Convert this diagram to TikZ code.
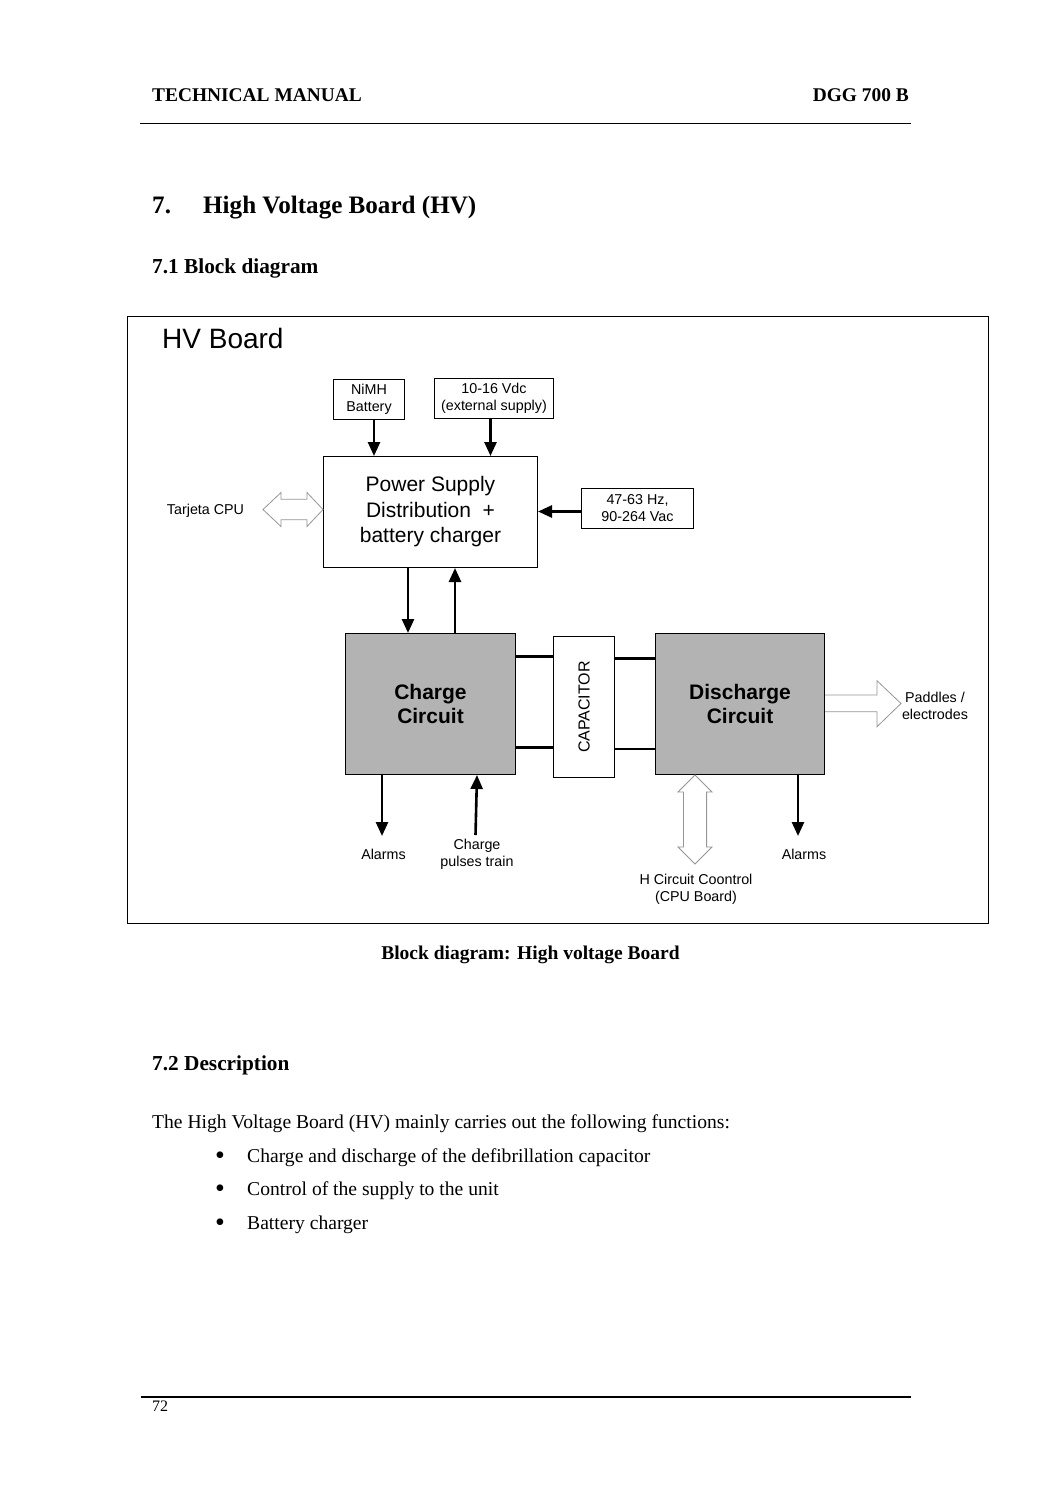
\documentclass[tikz,border=0pt]{standalone}
\usepackage{fontspec}
\setmainfont{Liberation Serif}
\setsansfont{Liberation Sans}
\usetikzlibrary{arrows.meta,positioning,calc}
\definecolor{boxgray}{RGB}{179,179,179}
\definecolor{arrowgray}{RGB}{150,150,150}
\tikzset{
  lbl/.style={font=\sffamily\fontsize{14.3}{17}\selectfont, align=center, inner sep=0pt},
  inbox/.style={draw, line width=1pt, align=center, inner sep=0pt, anchor=north west,
    font=\sffamily\fontsize{14.3}{17}\selectfont},
  blk/.style={draw, line width=1pt, fill=boxgray, align=center, inner sep=0pt, anchor=north west,
    font=\sffamily\bfseries\fontsize{21}{24}\selectfont},
  feed/.style={line width=2.6pt, -{Triangle[width=12pt,length=14pt]}},
  bus/.style={line width=2.6pt},
  hollow/.style={draw=arrowgray, fill=white, line width=0.8pt, line join=miter},
  serif/.style={inner sep=0pt, anchor=base west}
}
\begin{document}
\begin{tikzpicture}[x=1pt,y=-1pt]
  \useasboundingbox (0,0) rectangle (1060,1500);
  \fill[white] (0,0) rectangle (1060,1500);

  % En-tete de page
  \node[serif, font=\bfseries\fontsize{19.4}{22}\selectfont] (hdl) at (152,101) {TECHNICAL MANUAL};
  \node[serif, anchor=base east, font=\bfseries\fontsize{19.4}{22}\selectfont] (hdr) at (909,101) {DGG 700 B};
  \draw[line width=1pt] (140,123.3) -- (911,123.3);

  \node[serif, font=\bfseries\fontsize{25.1}{29}\selectfont] (secnum) at (152,213) {7.};
  \node[serif, font=\bfseries\fontsize{25.1}{29}\selectfont] (sec) at (203,213) {High Voltage Board (HV)};
  \node[serif, font=\bfseries\fontsize{21.3}{25}\selectfont] (sub1) at (152,273.5) {7.1 Block diagram};

  % Cadre du schema
  \draw[line width=1pt] (127,316) rectangle (988,923);
  \node[serif, font=\sffamily\fontsize{28}{32}\selectfont] (title) at (162,348) {HV Board};

  % Blocs
  \node[inbox, minimum width=71, minimum height=40] (nimh) at (333,379) {NiMH\\Battery};
  \node[inbox, minimum width=119, minimum height=40] (vdc) at (434,378) {10-16 Vdc\\(external supply)};
  \node[inbox, minimum width=214, minimum height=111,
    font=\sffamily\fontsize{21}{25.5}\selectfont] (psu) at (323,456)
    {Power Supply\\Distribution~~+\\battery charger};
  \node[inbox, minimum width=112, minimum height=40] (mains) at (581,488) {47-63 Hz,\\90-264 Vac};
  \node[blk, minimum width=170, minimum height=141] (charge) at (345,633) {Charge\\Circuit};
  \node[inbox, minimum width=61, minimum height=141] (cap) at (553,636) {};
  \node[lbl, rotate=90, font=\sffamily\fontsize{16}{18}\selectfont] (caplbl) at (cap.center) {CAPACITOR};
  \node[blk, minimum width=169, minimum height=141] (discharge) at (655,633) {Discharge\\Circuit};

  % Textes exterieurs
  \node[lbl] (tcpu) at (205.5,511) {Tarjeta CPU};
  \node[lbl] (paddles) at (935,705.5) {Paddles /\\electrodes};
  \node[lbl] (alarml) at (383.5,854) {Alarms};
  \node[lbl] (pulses) at (477,854) {Charge\\pulses train};
  \node[lbl] (alarmr) at (804,854) {Alarms};
  \node[lbl] (hctrl) at (696,889.5) {H Circuit Coontrol\\(CPU Board)};

  % Fleches pleines
  \draw[feed] (nimh.south -| 374,0) -- (psu.north -| 374,0);
  \draw[feed] (vdc.south -| 490.5,0) -- (psu.north -| 490.5,0);
  \draw[feed] (mains.west |- 0,511.5) -- (psu.east |- 0,511.5);
  \draw[feed] (psu.south -| 408,0) -- (charge.north -| 408,0);
  \draw[feed] (charge.north -| 455,0) -- (psu.south -| 455,0);
  \coordinate (al) at (382,836);
  \coordinate (pl) at (475.5,835);
  \coordinate (ar) at (798,836);
  \draw[feed] (charge.south -| al) -- (al);
  \draw[feed] (pl) -- (charge.south -| 477,0);
  \draw[feed] (discharge.south -| ar) -- (ar);

  % Liaisons condensateur
  \draw[bus] (charge.east |- 0,656.7) -- (cap.west |- 0,656.7);
  \draw[bus] (charge.east |- 0,747.3) -- (cap.west |- 0,747.3);
  \draw[bus] (cap.east |- 0,658.3) -- (discharge.west |- 0,658.3);
  \draw[bus] (cap.east |- 0,749) -- (discharge.west |- 0,749);

  % Fleches creuses
  \coordinate (cpuR) at (psu.west |- 0,509.5);
  \coordinate (cpuL) at (263,509.5);
  \draw[hollow] (cpuR) -- ++(-16,-17) -- ++(0,6.7) -- ($(cpuL)+(18,-10.3)$) -- ++(0,-6.7)
    -- (cpuL) -- ++(18,17) -- ++(0,-6.7) -- ($(cpuR)+(-16,10.3)$) -- ++(0,6.7) -- cycle;

  \coordinate (hT) at (discharge.south -| 695,0);
  \coordinate (hB) at (695,864);
  \draw[hollow] (hT) -- ++(17,17) -- ++(-5.4,0) -- ($(hB)+(11.6,-17)$) -- ++(5.4,0)
    -- (hB) -- ++(-17,-17) -- ++(5.4,0) -- ($(hT)+(-11.6,17)$) -- ++(-5.4,0) -- cycle;

  \coordinate (pd) at (discharge.east |- 0,703.5);
  \draw[hollow] ($(pd)+(0,-8.5)$) -- ++(52,0) -- ++(0,-14.3) -- ++(24,22.8) -- ++(-24,23.2)
    -- ++(0,-15) -- ($(pd)+(0,8.2)$);

  % Legende et texte
  \node[serif, anchor=base, font=\bfseries\fontsize{19.5}{22}\selectfont] (caption) at (530.5,959.5)
    {Block diagram: High voltage Board};
  \node[serif, font=\bfseries\fontsize{21.3}{25}\selectfont] (sub2) at (152,1070.5) {7.2 Description};
  \node[serif, font=\fontsize{19.6}{23}\selectfont] (intro) at (152,1128)
    {The High Voltage Board (HV) mainly carries out the following functions:};
  \foreach \txt [count=\i] in {Charge and discharge of the defibrillation capacitor,
      Control of the supply to the unit, Battery charger}
  {
    \pgfmathsetmacro{\y}{1162 + (\i-1)*33.5}
    \node[serif, anchor=base, font=\fontsize{28}{30}\selectfont] (dot\i) at (220,\y+2) {\textbullet};
    \node[serif, font=\fontsize{19.6}{23}\selectfont] (item\i) at (247,\y) {\txt};
  }

  % Pied de page
  \draw[line width=2pt] (140.5,1397) -- (911,1397);
  \node[serif, font=\fontsize{16}{18}\selectfont] (page) at (152,1411.5) {72};
\end{tikzpicture}
\end{document}
